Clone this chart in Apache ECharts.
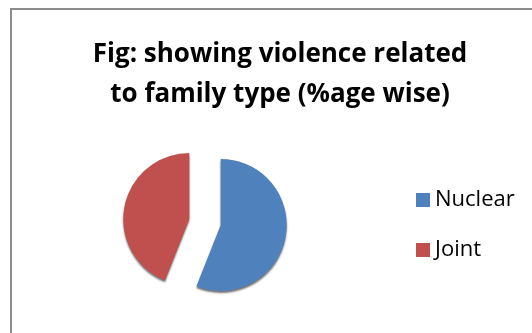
<!DOCTYPE html>
<html>
<head>
<meta charset="utf-8">
<script src="https://cdn.jsdelivr.net/npm/echarts@6/dist/echarts.min.js"></script>
<style>
  html, body { margin: 0; padding: 0; background: #fff; }
  #chart { width: 532px; height: 333px; }
</style>
</head>
<body>
<div id="chart"></div>
<script>
// Share of violence cases by family type (%)
const categories = ['Nuclear', 'Joint'];
const shares = [56, 44];
const colors = ['#4F81BD', '#C0504D'];
const titleText = 'Fig: showing violence related\nto family type (%age wise)';

const chart = echarts.init(document.getElementById('chart'), null, { renderer: 'canvas' });

const pieData = categories.map((name, i) => ({
  name: name,
  value: shares[i],
  selected: true,
  itemStyle: { color: colors[i] }
}));

chart.setOption({
  animation: false,
  backgroundColor: '#ffffff',
  title: {
    text: titleText,
    left: 275,
    textAlign: 'center',
    top: 30,
    textStyle: {
      fontFamily: 'Open Sans',
      fontWeight: 'bold',
      fontSize: 26,
      lineHeight: 40,
      color: '#000000'
    }
  },
  legend: {
    orient: 'vertical',
    left: 411,
    top: 184,
    itemWidth: 14,
    itemHeight: 14,
    itemGap: 28,
    icon: 'rect',
    selectedMode: false,
    data: categories,
    textStyle: {
      fontFamily: 'Open Sans',
      fontSize: 22,
      color: '#000000'
    }
  },
  graphic: [{
    type: 'rect',
    shape: { x: 11, y: 9, width: 560, height: 360 },
    style: { fill: null, stroke: '#8c8c8c', lineWidth: 2 },
    silent: true
  }],
  series: [{
    type: 'pie',
    center: [205, 222],
    radius: 66,
    startAngle: 90,
    clockwise: true,
    selectedMode: 'multiple',
    selectedOffset: 16,
    label: { show: false },
    labelLine: { show: false },
    emphasis: { disabled: true },
    itemStyle: {
      borderWidth: 0,
      shadowColor: 'rgba(0,0,0,0.55)',
      shadowBlur: 2,
      shadowOffsetY: 2
    },
    select: {
      itemStyle: {
        borderWidth: 0,
        shadowColor: 'rgba(0,0,0,0.55)',
        shadowBlur: 2,
        shadowOffsetY: 2
      }
    },
    data: pieData
  }]
});
</script>
</body>
</html>
